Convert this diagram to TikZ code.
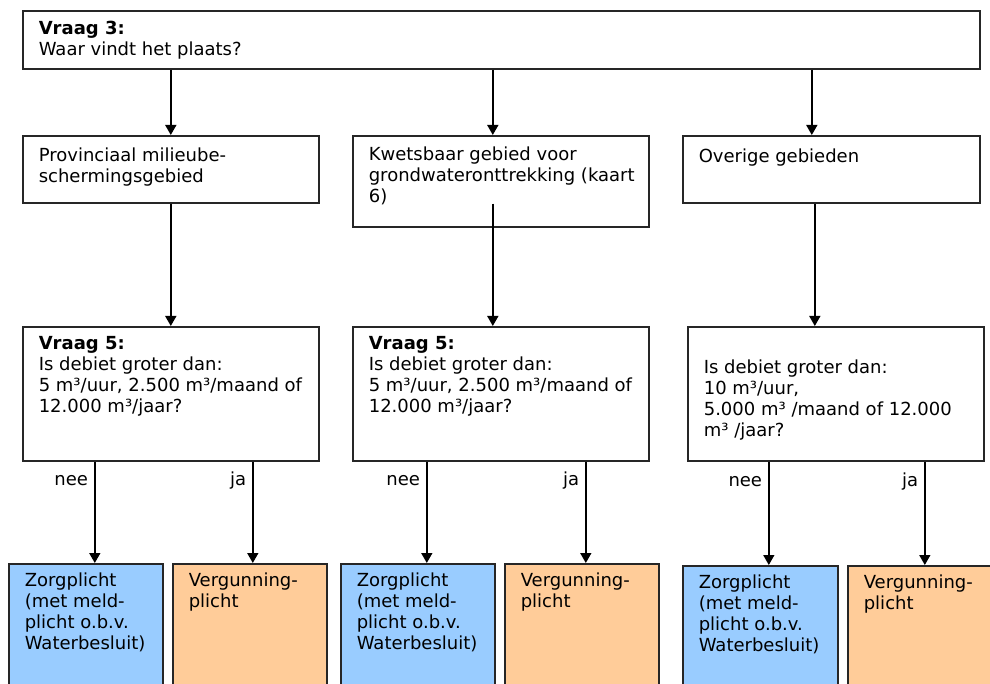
\documentclass[tikz,border=0pt]{standalone}
\usepackage{fontspec}
\setmainfont{DejaVu Sans}
\usetikzlibrary{arrows.meta}
\definecolor{zorgblue}{HTML}{99CCFF}
\definecolor{vergorange}{HTML}{FFCC99}
\newcommand{\boxfont}{\fontsize{18}{21}\selectfont}
% width, height, top padding, text
\newcommand{\boxtext}[4]{\parbox[t][#2pt][t]{#1pt}{\raggedright\leftskip=16pt\vspace*{#3pt}#4}}

\begin{document}
\begin{tikzpicture}[
	x=1pt, y=-1pt,
	>={Triangle[length=10pt, width=11pt]},
	box/.style={draw=black!85, line width=1.6pt, inner sep=0pt, anchor=north west, font=\boxfont},
	zorg/.style={box, fill=zorgblue},
	verg/.style={box, fill=vergorange},
	arr/.style={->, line width=1.5pt},
	answer/.style={left=6pt, inner sep=0pt, font=\boxfont}
]
\useasboundingbox (0,0) rectangle (990,684);
\clip (0,0) rectangle (990,684);

% question 3
\node[box] (q3) at (22,10) {\boxtext{957}{58}{10}{\textbf{Vraag 3:}\\Waar vindt het plaats?}};

% areas
\node[box] (prov) at (22,135) {\boxtext{296}{67}{12}{Provinciaal milieube-\\schermingsgebied}};
\node[box] (kwets) at (352,135) {\boxtext{296}{91}{11}{Kwetsbaar gebied voor\\grondwateronttrekking (kaart\\6)}};
\node[box] (overig) at (682,135) {\boxtext{297}{67}{13}{Overige gebieden}};

% question 5
\node[box] (q5a) at (22,326) {\boxtext{296}{134}{10}{\textbf{Vraag 5:}\\Is debiet groter dan:\\5 m³/uur, 2.500 m³/maand of\\12.000 m³/jaar?}};
\node[box] (q5b) at (352,326) {\boxtext{296}{134}{10}{\textbf{Vraag 5:}\\Is debiet groter dan:\\5 m³/uur, 2.500 m³/maand of\\12.000 m³/jaar?}};
\node[box] (q5c) at (687,326) {\boxtext{296}{134}{33}{Is debiet groter dan:\\10 m³/uur,\\5.000 m³ /maand of 12.000\\m³ /jaar?}};

% outcomes
\node[zorg] (zorga) at (8,563) {\boxtext{154}{140}{9}{Zorgplicht\\(met meld-\\plicht o.b.v.\\Waterbesluit)}};
\node[verg] (verga) at (172,563) {\boxtext{154}{140}{9}{Vergunning-\\plicht}};
\node[zorg] (zorgb) at (340,563) {\boxtext{154}{140}{9}{Zorgplicht\\(met meld-\\plicht o.b.v.\\Waterbesluit)}};
\node[verg] (vergb) at (504,563) {\boxtext{154}{140}{9}{Vergunning-\\plicht}};
\node[zorg] (zorgc) at (682,565) {\boxtext{155}{140}{9}{Zorgplicht\\(met meld-\\plicht o.b.v.\\Waterbesluit)}};
\node[verg] (vergc) at (847,565) {\boxtext{154}{140}{9}{Vergunning-\\plicht}};

% connectors
\draw[arr] (prov.north |- q3.south) -- (prov.north);
\draw[arr] ([xshift=-8pt]kwets.north |- q3.south) -- ([xshift=-8pt]kwets.north);
\draw[arr] ([xshift=-19.5pt]overig.north |- q3.south) -- ([xshift=-19.5pt]overig.north);
\draw[arr] (prov.south) -- (q5a.north);
\draw[arr] ([xshift=-8pt]q5b.north |- prov.south) -- ([xshift=-8pt]q5b.north);
\draw[arr] ([xshift=-21pt]q5c.north |- overig.south) -- ([xshift=-21pt]q5c.north);

\foreach \src/\dst/\dx/\lab in {q5a/zorga/9/nee, q5a/verga/3/ja, q5b/zorgb/9/nee, q5b/vergb/4/ja, q5c/zorgc/8.5/nee, q5c/vergc/0/ja}
	\draw[arr] ([xshift=\dx pt]\dst.north |- \src.south) -- node[pos=0.19, answer] {\lab} ([xshift=\dx pt]\dst.north);
\end{tikzpicture}
\end{document}
